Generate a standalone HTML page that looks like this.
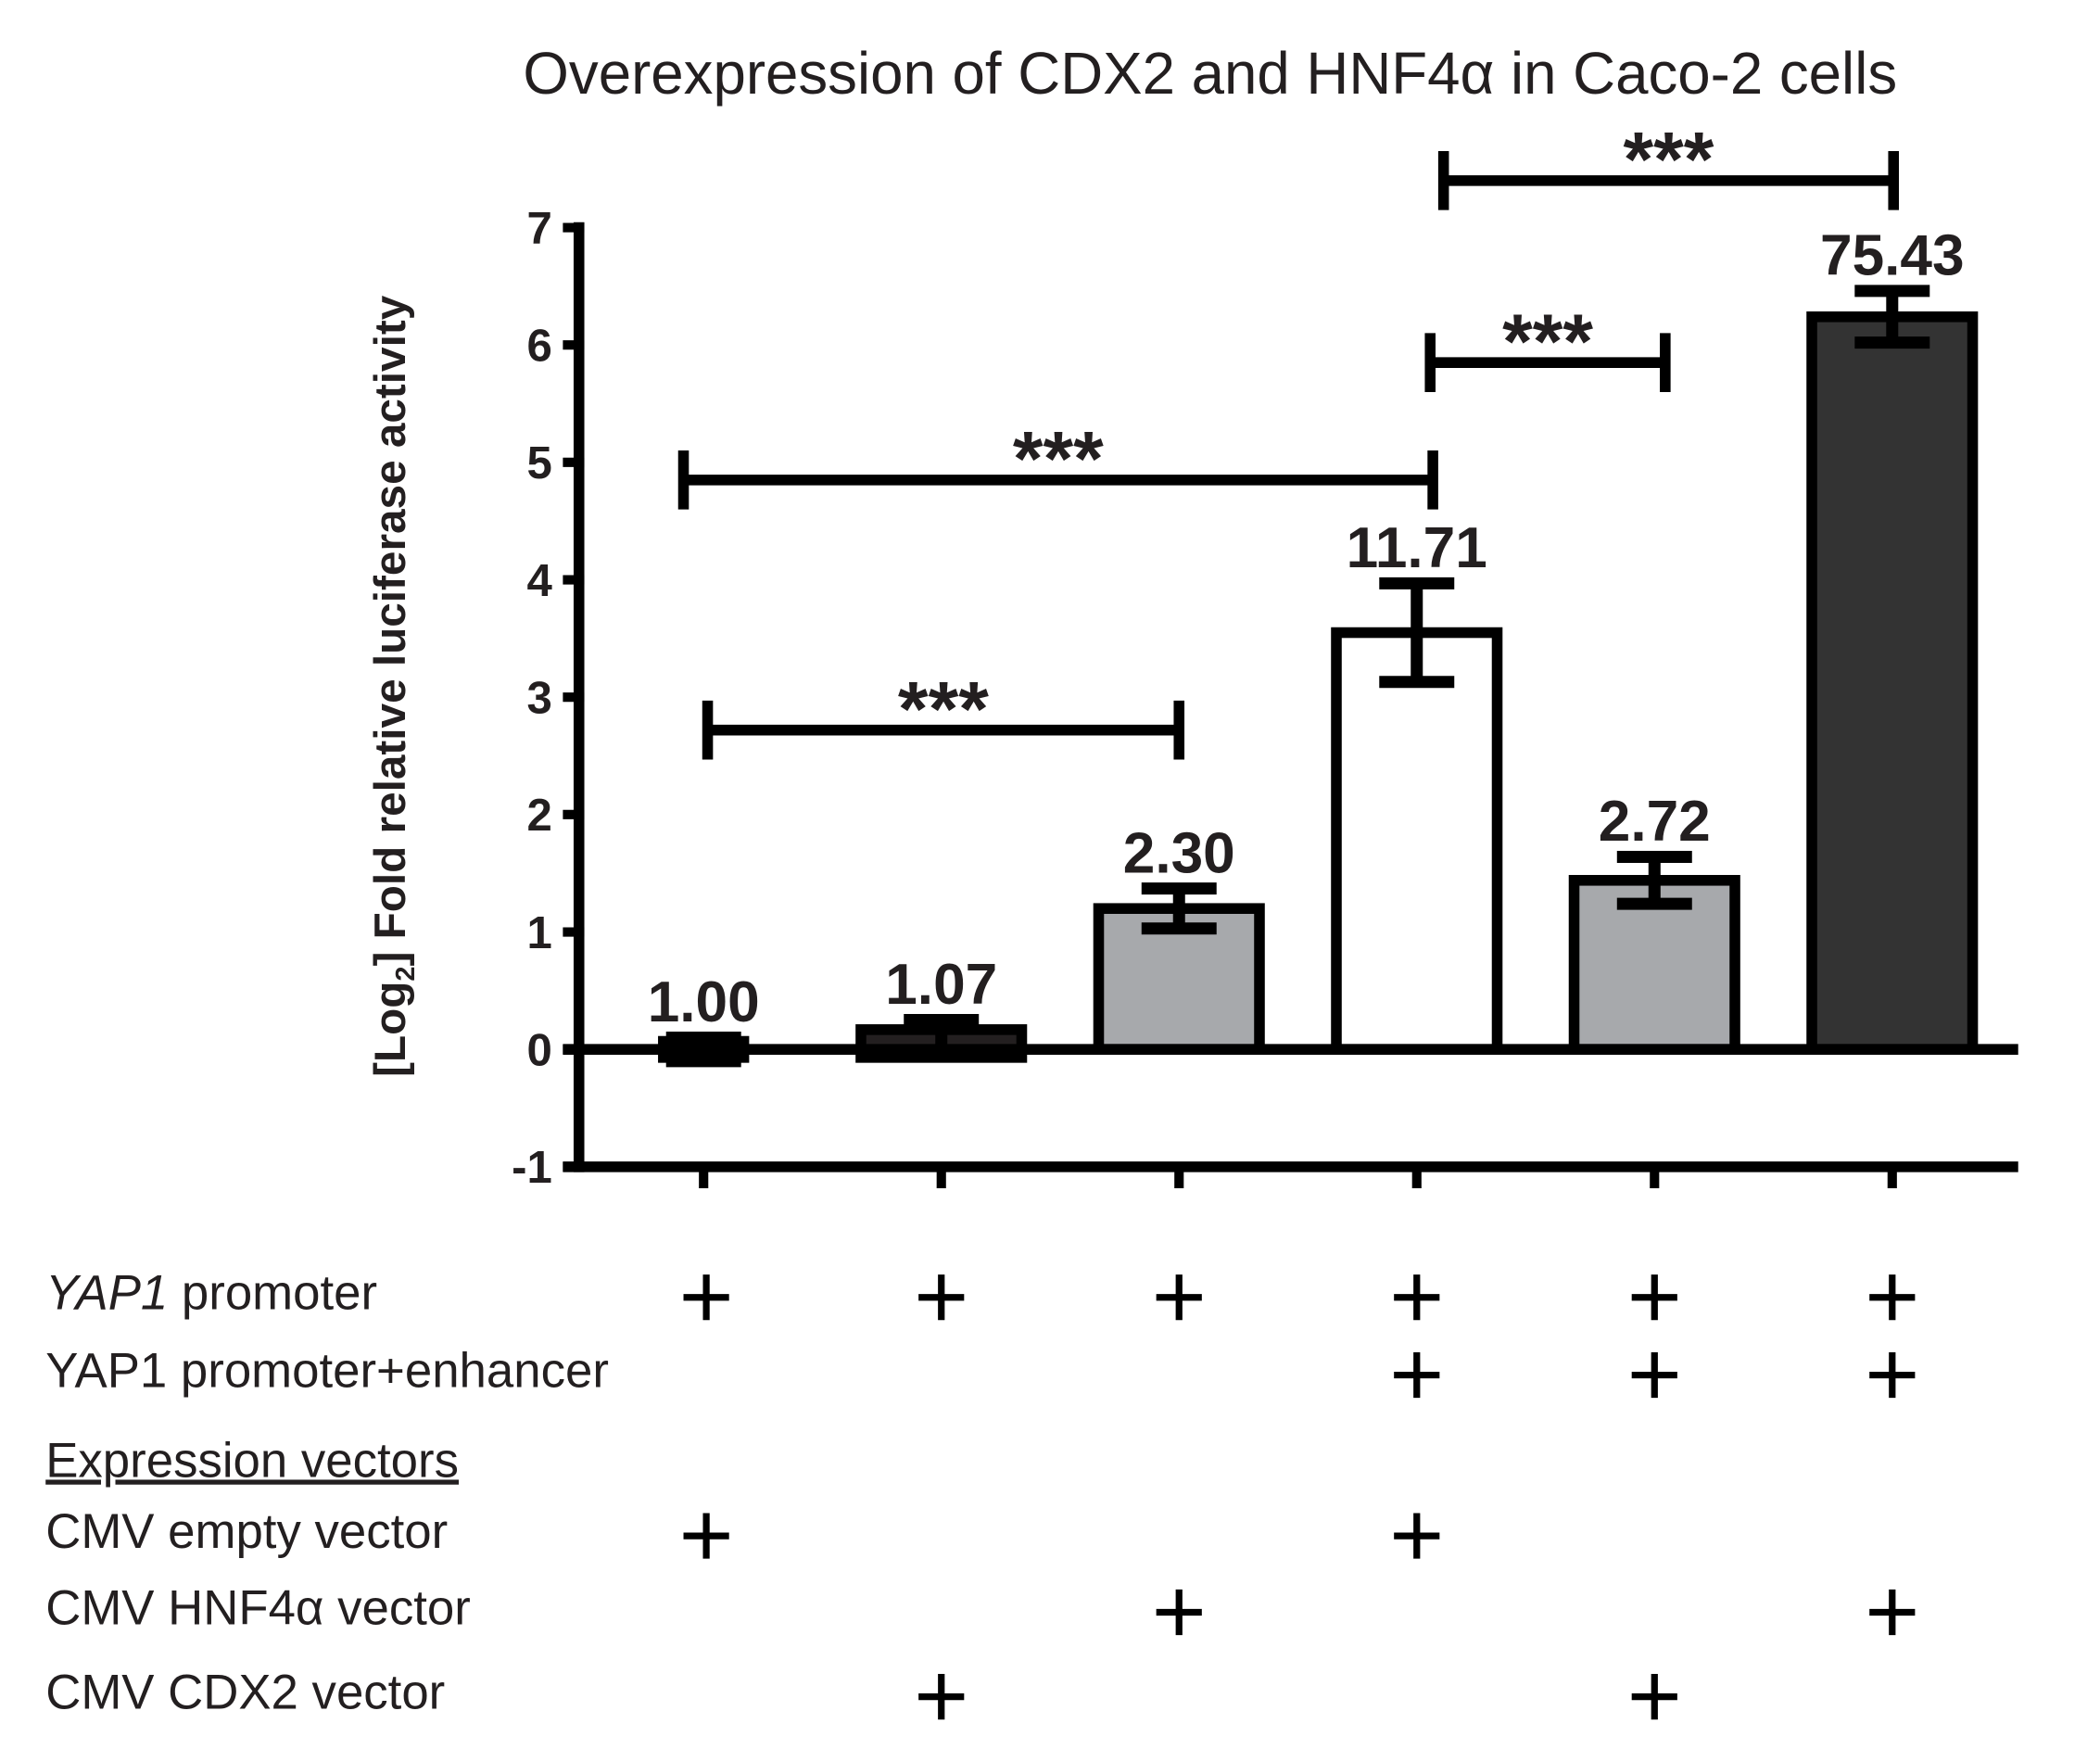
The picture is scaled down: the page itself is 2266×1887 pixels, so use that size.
<!DOCTYPE html>
<html><head><meta charset="utf-8"><style>
html,body{margin:0;padding:0;background:#fff;}
svg{display:block;}
text{font-family:"Liberation Sans","DejaVu Sans",sans-serif;fill:#231f20;}
</style></head><body>
<svg id="chart" width="2266" height="1887" viewBox="0 0 1567 1305" xmlns="http://www.w3.org/2000/svg">
<text x="903" y="70" font-size="44" text-anchor="middle">Overexpression of CDX2 and HNF4α in Caco-2 cells</text>
<text transform="translate(302,512) rotate(-90)" font-size="33" font-weight="bold" text-anchor="middle">[Log<tspan font-size="20" dy="7">2</tspan><tspan dy="-7">] Fold relative luciferase activity</tspan></text>
<g id="plotlayer"></g>
<g id="tablelayer"></g>
</svg>
<script>
var categories=["g1","g2","g3","g4","g5","g6"];
var values=[0,0.1,1.2,3.55,1.44,6.24];
var errors=[0.1,0.15,0.17,0.42,0.2,0.22];
var valueLabels=["1.00","1.07","2.30","11.71","2.72","75.43"];
var fills=["#231f20","#231f20","#a7a9ac","#ffffff","#a7a9ac","#333333"];
var yTicks=[-1,0,1,2,3,4,5,6,7];
var sigPairs=[[0,2],[0,3],[3,4],[3,5]];
var sigLevels=[2.72,4.85,5.85,7.4];
var rowLabels=["YAP1 promoter","YAP1 promoter+enhancer","Expression vectors","CMV empty vector","CMV HNF4α vector","CMV CDX2 vector"];
var rowPlus=[[1,1,1,1,1,1],[0,0,0,1,1,1],[0,0,0,0,0,0],[1,0,0,1,0,0],[0,0,1,0,0,1],[0,1,0,0,1,0]];

var SVGNS="http://www.w3.org/2000/svg";
var plotLayer=document.getElementById('plotlayer');
var tableLayer=document.getElementById('tablelayer');
var Y0=783, UNIT=87.6, BW=120;
function yS(v){return Y0-v*UNIT;}
function xS(i){return 525+i*177.4;}
function makeEl(tag,attrs,parent){
  var node=document.createElementNS(SVGNS,tag);
  for(var k in attrs){node.setAttribute(k,String(attrs[k]));}
  parent.appendChild(node);
  return node;
}
var ax=makeEl('line',{x1:432,y1:yS(7)-4,x2:432,y2:yS(-1)+4,stroke:'#000','stroke-width':8},plotLayer);


for(var a=0;a<yTicks.length;a++){
  var tv=yTicks[a];
  var tl=makeEl('line',{x1:420,y1:yS(tv),x2:436,y2:yS(tv),stroke:'#000','stroke-width':7},plotLayer);
  
  
  var tt=makeEl('text',{x:412,y:yS(tv)+12,'font-size':34,'font-weight':'bold','text-anchor':'end'},plotLayer);
  tt.textContent=String(tv);
  
  
}
var bx=makeEl('line',{x1:420,y1:yS(-1),x2:1506,y2:yS(-1),stroke:'#000','stroke-width':8},plotLayer);


for(var b=0;b<categories.length;b++){
  var xt=makeEl('line',{x1:xS(b),y1:yS(-1),x2:xS(b),y2:yS(-1)+16,stroke:'#000','stroke-width':7},plotLayer);
  
  
}
for(var i=0;i<values.length;i++){
  var v=values[i], cx=xS(i);
  var barTop=Math.min(yS(v),Y0), barH=Math.abs(yS(v)-Y0);
  var rx=cx-BW/2, rw=BW, ry=barTop, rh=barH;
  if(i<2){rx=cx-(i===0?30:60); rw=(i===0?60:120); ry=yS(v)-6; rh=barH+12;}
  var bar=makeEl('rect',{x:rx,y:ry,width:rw,height:rh,fill:fills[i],stroke:'#000','stroke-width':8},plotLayer);
  
  
  var yt=yS(v+errors[i]), yb=yS(v-errors[i]);
  var eb=makeEl('path',{d:'M'+cx+','+yt+'V'+yb+'M'+(cx-28)+','+yt+'H'+(cx+28)+'M'+(cx-28)+','+yb+'H'+(cx+28),stroke:'#000','stroke-width':9,fill:'none'},plotLayer);
  
  
  var vl=makeEl('text',{x:cx,y:yt-12,'font-size':43,'font-weight':'bold','text-anchor':'middle'},plotLayer);
  vl.textContent=valueLabels[i];
  
  
}
var zl=makeEl('line',{x1:420,y1:Y0,x2:1506,y2:Y0,stroke:'#000','stroke-width':8},plotLayer);


var offA=[3,-15,10,20], offB=[0,12,8,1];
for(var s=0;s<sigPairs.length;s++){
  var xa=xS(sigPairs[s][0])+offA[s], xb=xS(sigPairs[s][1])+offB[s], sy=yS(sigLevels[s]);
  var br=makeEl('path',{d:'M'+xa+','+sy+'H'+xb+'M'+xa+','+(sy-22)+'V'+(sy+22)+'M'+xb+','+(sy-22)+'V'+(sy+22),stroke:'#000','stroke-width':8,fill:'none'},plotLayer);
  
  
  var st=makeEl('text',{x:(xa+xb)/2,y:sy+4,'font-size':58,'font-weight':'bold','text-anchor':'middle'},plotLayer);
  st.textContent='***';
  
  
}
var rowY=[965,1023,1090,1143,1200,1263];
for(var r=0;r<rowLabels.length;r++){
  var lt=makeEl('text',{x:34,y:rowY[r]+12,'font-size':36.5},tableLayer);
  if(r===0){
    var ts1=makeEl('tspan',{'font-style':'italic'},lt); ts1.textContent='YAP1';
    var ts2=makeEl('tspan',{},lt); ts2.textContent=' promoter';
  } else { lt.textContent=rowLabels[r]; }
  if(r===2){lt.setAttribute('text-decoration','underline');}
  
  
  for(var c=0;c<rowPlus[r].length;c++){
    if(!rowPlus[r][c]) continue;
    var px=xS(c)+(c===0?2:0), py=rowY[r]+3;
    var pl=makeEl('path',{d:'M'+(px-17)+','+py+'H'+(px+17)+'M'+px+','+(py-17)+'V'+(py+17),stroke:'#000','stroke-width':5,fill:'none'},tableLayer);
    
    
  }
}
</script>
</body></html>
